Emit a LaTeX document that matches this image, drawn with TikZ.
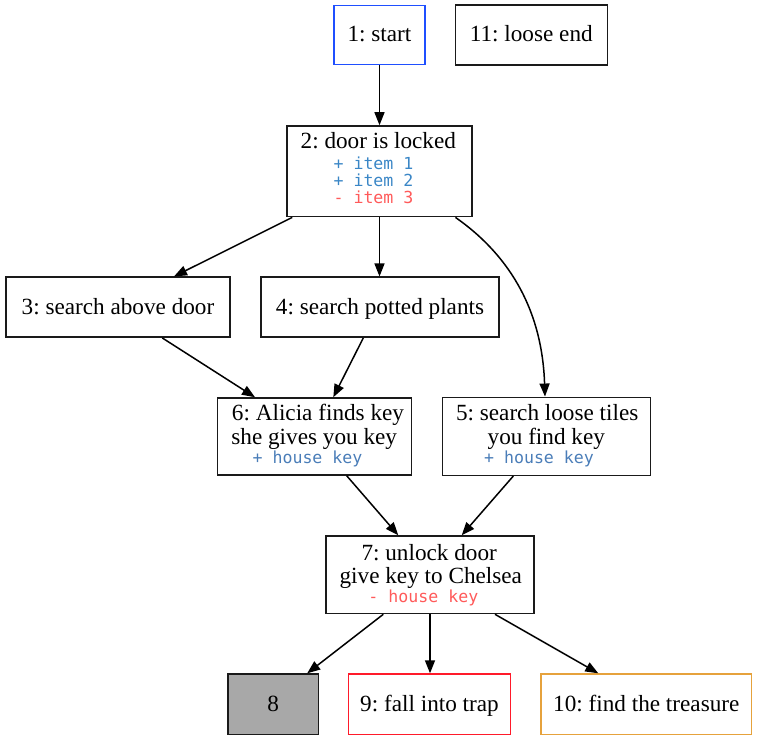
\documentclass[tikz,border=0pt]{standalone}
\usepackage{fontspec}
\setmainfont{Liberation Serif}
\newfontfamily\monofont{DejaVu Sans Mono}
\usetikzlibrary{arrows.meta}
\frenchspacing
\definecolor{edgeblack}{HTML}{000000}
\definecolor{boxline}{HTML}{1A1A1A}
\definecolor{startblue}{HTML}{1F4FFF}
\definecolor{trapred}{HTML}{FF1A2A}
\definecolor{treasureorange}{HTML}{E6A23C}
\definecolor{graybox}{HTML}{A8A8A8}
\definecolor{itemblue}{HTML}{3A86C6}
\definecolor{keyblue}{HTML}{4A7DB8}
\definecolor{minusred}{HTML}{FF5A5A}
\begin{document}
\frenchspacing
\begin{tikzpicture}[x=1pt,y=-1pt,
  box/.style={draw=boxline, line width=1.5pt, inner sep=0pt, text height=17pt, text depth=3pt,
    font=\frenchspacing\fontsize{23.2}{28}\selectfont, anchor=center},
  ttl/.style={anchor=base, inner sep=0pt, font=\frenchspacing\fontsize{23.2}{28}\selectfont},
  mono/.style={anchor=base, inner sep=0pt, font=\monofont\fontsize{16.6}{20}\selectfont},
  edge/.style={draw=edgeblack, line width=1.5pt, -{Triangle[length=13pt,width=10pt]}}]
\useasboundingbox (0,0) rectangle (758,743);

% nodes
\node[box, draw=startblue, minimum width=91, minimum height=59] (n1) at (379.5,35) {1: start};
\node[box, minimum width=152, minimum height=60] (n11) at (531.3,35) {11: loose end};

\node[box, minimum width=185, minimum height=90.7] (n2) at (379.5,171.3) {};
\node[ttl] (n2a) at (378.3,149) {2: door is locked};
\node[mono, text=itemblue] (n2b) at (373.5,169.3) {+ item 1};
\node[mono, text=itemblue] (n2c) at (373.5,186.7) {+ item 2};
\node[mono, text=minusred] (n2d) at (373.5,204) {- item 3};

\node[box, minimum width=224, minimum height=60] (n3) at (118,307.2) {3: search above door};
\node[box, minimum width=238, minimum height=60] (n4) at (380,307.2) {4: search potted plants};

\node[box, minimum width=194, minimum height=77] (n6) at (314.5,436.5) {};
\node[ttl] (n6a) at (318,420) {6: Alicia finds key};
\node[ttl] (n6b) at (314.2,444.3) {she gives you key};
\node[mono, text=keyblue] (n6c) at (307.5,463.3) {+ house key};

\node[box, minimum width=208, minimum height=78] (n5) at (546.5,436.3) {};
\node[ttl] (n5a) at (547.2,420) {5: search loose tiles};
\node[ttl] (n5b) at (546.3,444.3) {you find key};
\node[mono, text=keyblue] (n5c) at (539,463.3) {+ house key};

\node[box, minimum width=208, minimum height=77.5] (n7) at (430,574.8) {};
\node[ttl] (n7a) at (429.2,560.7) {7: unlock door};
\node[ttl] (n7b) at (430.8,583.3) {give key to Chelsea};
\node[mono, text=minusred] (n7c) at (423.3,602.3) {- house key};

\node[box, fill=graybox, minimum width=90.3, minimum height=60.3] (n8) at (273.2,704.2) {8};
\node[box, draw=trapred, minimum width=162.4, minimum height=60.3] (n9) at (429.5,704.2) {9: fall into trap};
\node[box, draw=treasureorange, minimum width=210.7, minimum height=60.3] (n10) at (646.3,704.2) {10: find the treasure};

% edges
\draw[edge] (n1.south) -- (n2.north);
\draw[edge] ([xshift=6pt]n2.south west) -- ([xshift=56pt]n3.north);
\draw[edge] (n2.south) -- (n2.south |- n4.north);
\draw[edge] ([xshift=-17.3pt]n2.south east) .. controls (505,252) and (542,305) .. ([xshift=-1.5pt]n5.north);
\draw[edge] ([xshift=44.3pt]n3.south) -- ([xshift=-59.5pt]n6.north);
\draw[edge] ([xshift=-16.7pt]n4.south) -- ([xshift=18.8pt]n6.north);
\draw[edge] ([xshift=32.2pt]n6.south) -- ([xshift=-31.7pt]n7.north);
\draw[edge] ([xshift=-33.2pt]n5.south) -- ([xshift=31.7pt]n7.north);
\draw[edge] ([xshift=-46.7pt]n7.south) -- ([xshift=34pt]n8.north);
\draw[edge] (n7.south) -- (n7.south |- n9.north);
\draw[edge] ([xshift=65pt]n7.south) -- ([xshift=-48pt]n10.north);
\end{tikzpicture}
\end{document}
